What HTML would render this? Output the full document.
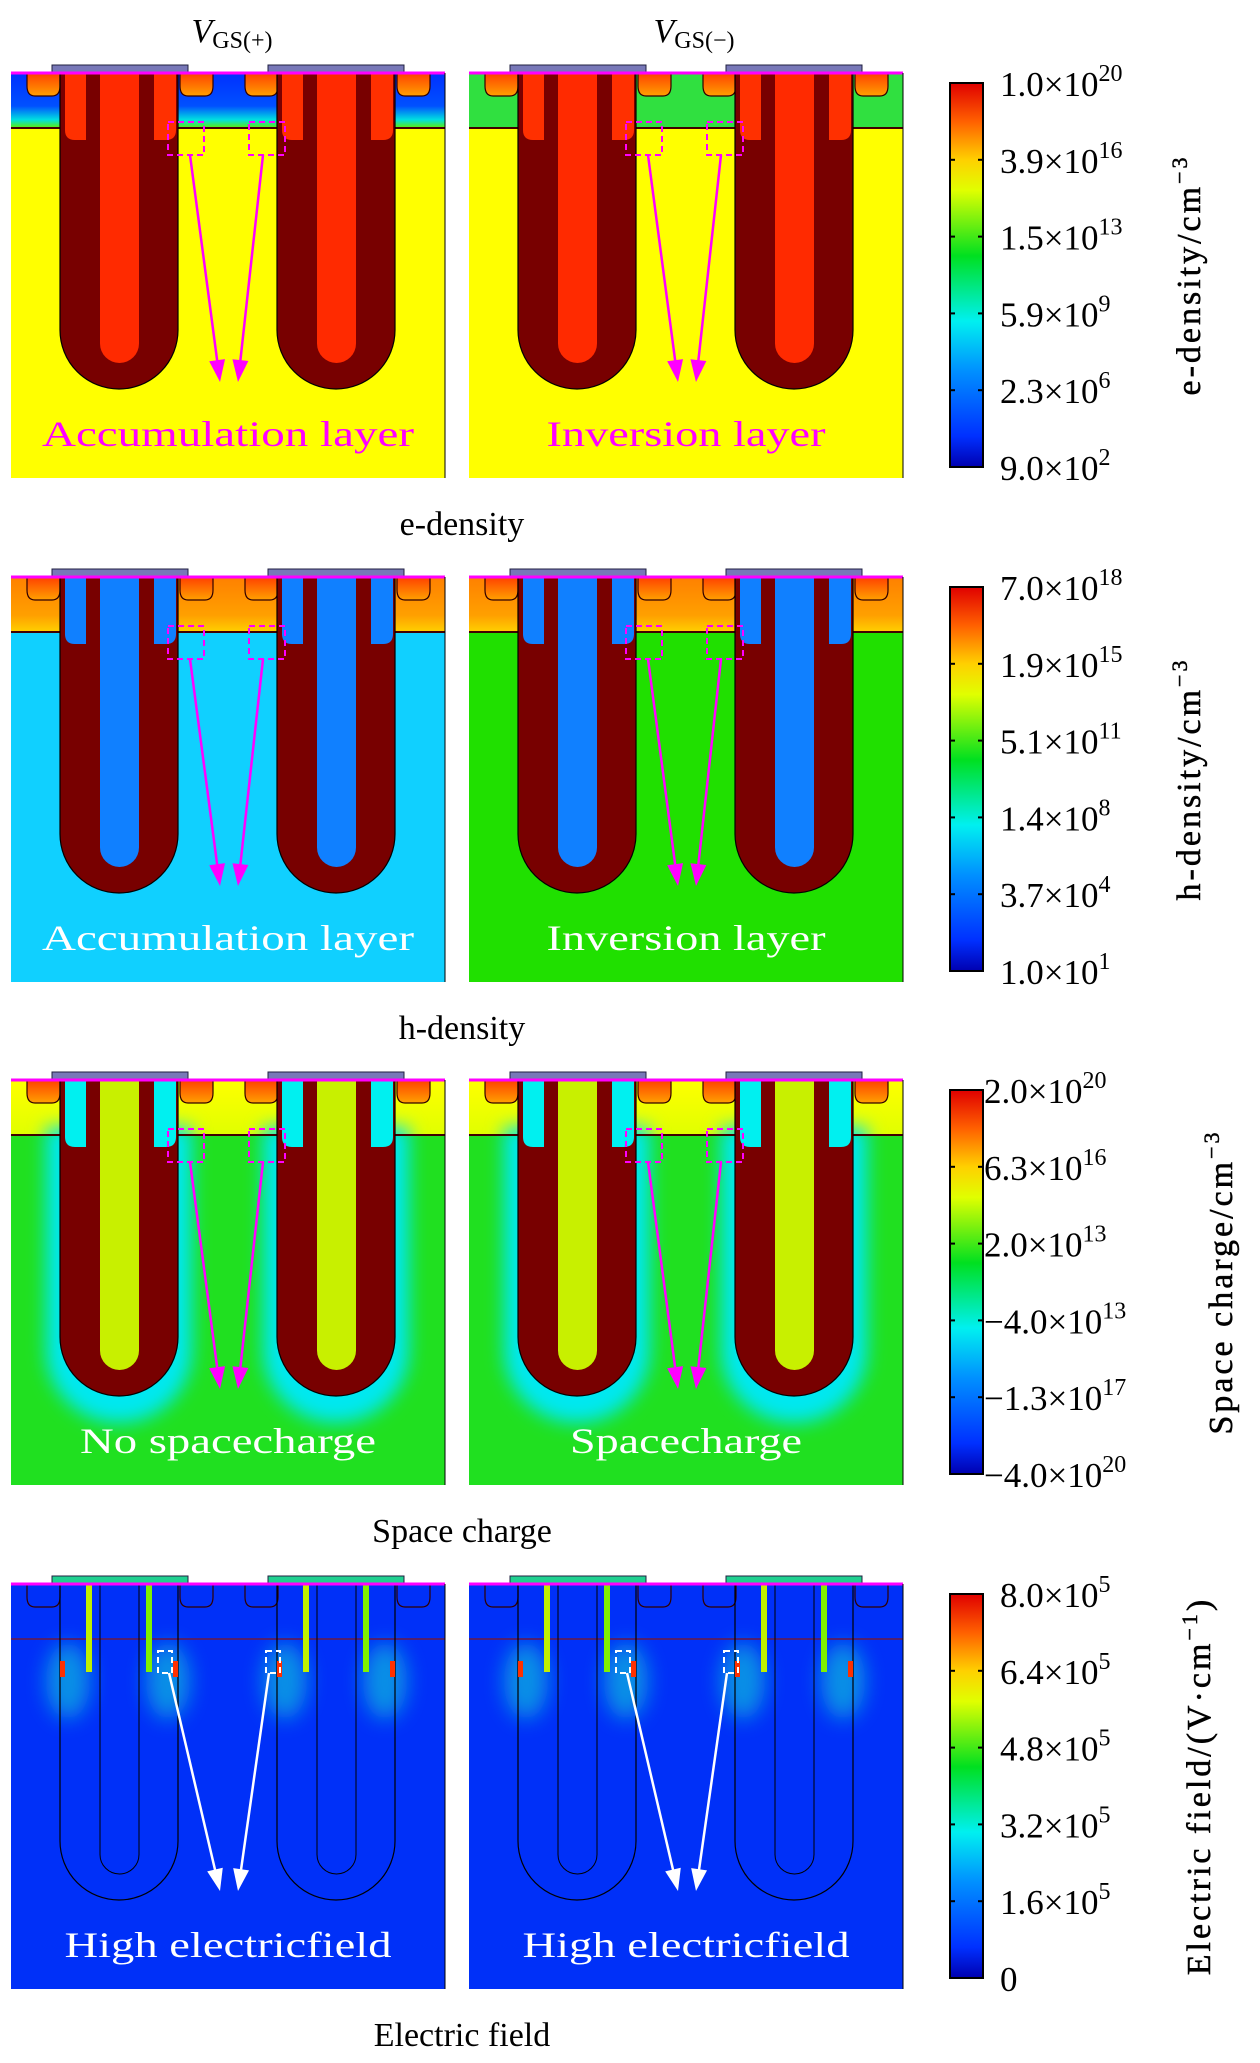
<!DOCTYPE html>
<html><head><meta charset="utf-8"><style>
html,body{margin:0;padding:0;background:#fff;}
svg{display:block;}
text{font-family:"Liberation Serif",serif;}
</style></head><body>
<svg id="fig" width="1260" height="2063" viewBox="0 0 1260 2063" xmlns="http://www.w3.org/2000/svg">
<defs>
<linearGradient id="cbar" x1="0" y1="1" x2="0" y2="0">
<stop offset="0" stop-color="#0000b0"/><stop offset="0.08" stop-color="#0030ff"/><stop offset="0.25" stop-color="#0090ff"/>
<stop offset="0.38" stop-color="#00f0f0"/><stop offset="0.55" stop-color="#00e020"/><stop offset="0.72" stop-color="#e0ff00"/>
<stop offset="0.8" stop-color="#ffd000"/><stop offset="0.9" stop-color="#ff6000"/><stop offset="1" stop-color="#e00000"/>
</linearGradient>
<linearGradient id="bandBlue" x1="0" y1="0" x2="0" y2="1"><stop offset="0" stop-color="#0030ff"/><stop offset="0.6" stop-color="#0050ff"/><stop offset="0.85" stop-color="#00e0e0"/><stop offset="1" stop-color="#60f000"/></linearGradient>
<linearGradient id="bandOrange" x1="0" y1="0" x2="0" y2="1"><stop offset="0" stop-color="#ff8000"/><stop offset="0.7" stop-color="#ffa000"/><stop offset="1" stop-color="#ffd000"/></linearGradient>
<linearGradient id="bandYellow" x1="0" y1="0" x2="0" y2="1"><stop offset="0" stop-color="#ffff00"/><stop offset="1" stop-color="#e0ff00"/></linearGradient>
<linearGradient id="bump" x1="0" y1="0" x2="0" y2="1"><stop offset="0" stop-color="#ff4000"/><stop offset="1" stop-color="#ffa000"/></linearGradient>
<filter id="blur" x="-30%" y="-30%" width="160%" height="160%"><feGaussianBlur stdDeviation="9"/></filter>
<filter id="blur2" x="-50%" y="-50%" width="200%" height="200%"><feGaussianBlur stdDeviation="10"/></filter>
</defs>
<g id="content"></g>
</svg>
<script>
// colorbar data
const eTicks = [["1.0","20"],["3.9","16"],["1.5","13"],["5.9","9"],["2.3","6"],["9.0","2"]];
const hTicks = [["7.0","18"],["1.9","15"],["5.1","11"],["1.4","8"],["3.7","4"],["1.0","1"]];
const sTicks = [["2.0","20"],["6.3","16"],["2.0","13"],["\u22124.0","13"],["\u22121.3","17"],["\u22124.0","20"]];
const fTicks = [["8.0","5"],["6.4","5"],["4.8","5"],["3.2","5"],["1.6","5"],["0",""]];
const rowCaptions = ["e-density","h-density","Space charge","Electric field"];
const rowOffsets = [0,504,1007,1511];

const NS="http://www.w3.org/2000/svg";
const root=document.getElementById('content');
function mk(tag,attrs,parent){const e=document.createElementNS(NS,tag);for(const k in attrs)e.setAttribute(k,attrs[k]);(parent||root).appendChild(e);return e;}
function uPath(x0,w,top,bot){const r=w/2;return `M${x0},${top} L${x0},${bot-r} A${r},${r} 0 0 0 ${x0+w},${bot-r} L${x0+w},${top} Z`;}

const cfgs=[
 {bg:"#ffff00",bandL:"url(#bandBlue)",bandR:"#30e040",outer:"#780000",core:"#ff2a00",side:"#ff3000",arrow:"#ff00ff",txt:"#ff00ff",labels:["Accumulation layer","Inversion layer"],lens:[372,279]},
 {bg:"#10d0ff",bgR:"#20e000",bandL:"url(#bandOrange)",bandR:"url(#bandOrange)",outer:"#780000",core:"#1080ff",side:"#1080ff",arrow:"#ff00ff",txt:"#ffffff",labels:["Accumulation layer","Inversion layer"],lens:[372,279]},
 {bg:"#20e020",bandL:"url(#bandYellow)",bandR:"url(#bandYellow)",outer:"#780000",core:"#c8f000",side:"#00f0f0",arrow:"#ff00ff",txt:"#ffffff",labels:["No spacecharge","Spacecharge"],lens:[296,232],halo:true},
 {bg:"#0030f8",bandL:"#0030f8",bandR:"#0030f8",outer:"none",core:"none",side:"none",arrow:"#ffffff",txt:"#ffffff",labels:["High electricfield","High electricfield"],lens:[327,327],efield:true}
];
const tickSets=[eTicks,hTicks,sTicks,fTicks];
const titles=[["e-density/cm","\u22123",290,1190],["h-density/cm","\u22123",292,1190],["Space charge/cm","\u22123",368,1222],["Electric field/(V\u00b7cm","\u22121",420,1200]];

rowOffsets.forEach((py,ri)=>{
 const c=cfgs[ri];
 [0,458].forEach((px,pi)=>{
  const g=mk('g',{});
  const bg=(pi&&c.bgR)?c.bgR:c.bg;
  mk('rect',{x:px+11,y:py+73,width:434,height:405,fill:bg},g);
  mk('rect',{x:px+11,y:py+73,width:434,height:55,fill:pi?c.bandR:c.bandL},g);
  if(ri===2){
    [60,277].forEach(t=>{mk('path',{d:uPath(px+t-14,146,py+120,py+416),fill:"#00e8f0",filter:"url(#blur)"},g);});
  }
  if(ri===3){
    [60,277].forEach(t=>{
      mk('ellipse',{cx:px+t+8,cy:py+170,rx:22,ry:38,fill:"#10b0e0",filter:"url(#blur2)",opacity:"0.75"},g);
      mk('ellipse',{cx:px+t+108,cy:py+170,rx:22,ry:38,fill:"#10b0e0",filter:"url(#blur2)",opacity:"0.75"},g);
    });
  }
  [27,180,245,397].forEach(bx=>{mk('path',{d:`M${px+bx},${py+73} L${px+bx},${py+86} Q${px+bx},${py+96} ${px+bx+8},${py+96} L${px+bx+25},${py+96} Q${px+bx+33},${py+96} ${px+bx+33},${py+86} L${px+bx+33},${py+73} Z`,fill:ri===3?"none":"url(#bump)",stroke:"#300000","stroke-width":"1.2"},g);});
  mk('line',{x1:px+11,y1:py+128,x2:px+445,y2:py+128,stroke:ri===3?"#502070":"#400000","stroke-width":"2"},g);
  [60,277].forEach(t=>{
   const tr=mk('path',{d:uPath(px+t,118,py+73,py+389),fill:c.outer,stroke:"#000","stroke-width":"1.2"},g);
   
   
   mk('path',{d:uPath(px+t+40,39,py+73,py+363),fill:c.core,stroke:c.efield?"#000":"none","stroke-width":"1"},g);
   if(!c.efield){
    mk('path',{d:`M${px+t+5},${py+73} L${px+t+5},${py+130} Q${px+t+5},${py+140} ${px+t+15},${py+140} L${px+t+26},${py+140} L${px+t+26},${py+73} Z`,fill:c.side},g);
    mk('path',{d:`M${px+t+94},${py+73} L${px+t+94},${py+140} L${px+t+106},${py+140} Q${px+t+116},${py+140} ${px+t+116},${py+130} L${px+t+116},${py+73} Z`,fill:c.side},g);
   } else {
    mk('rect',{x:px+t+26,y:py+73,width:6,height:88,fill:"#c0f000"},g);
    mk('rect',{x:px+t+86,y:py+73,width:6,height:88,fill:"#80f000"},g);
    mk('rect',{x:px+t,y:py+150,width:5,height:16,fill:"#ff3000"},g);
    mk('rect',{x:px+t+113,y:py+150,width:5,height:16,fill:"#ff3000"},g);
   }
  });
  mk('rect',{x:px+52,y:py+65,width:136,height:8,fill:c.efield?"#20d090":"#7878b8",stroke:"#202040","stroke-width":"1"},g);
  mk('rect',{x:px+268,y:py+65,width:136,height:8,fill:c.efield?"#20d090":"#7878b8",stroke:"#202040","stroke-width":"1"},g);
  mk('line',{x1:px+11,y1:py+73,x2:px+445,y2:py+73,stroke:"#ff00ff","stroke-width":"3"},g);
  mk('line',{x1:px+445,y1:py+73,x2:px+445,y2:py+478,stroke:"#000","stroke-width":"1"},g);
  const bw=c.efield?14:36, bh=c.efield?22:33;
  const b1x=c.efield?px+158:px+168, b2x=c.efield?px+266:px+249;
  const by=c.efield?py+140:py+122;
  [b1x,b2x].forEach(bx=>mk('rect',{x:bx,y:by,width:bw,height:bh,fill:"none",stroke:c.arrow,"stroke-width":"2","stroke-dasharray":"6,4"},g));
  const tipY=c.efield?py+380:py+382;
  const arrows=[[b1x+bw/2+4,by+bh,px+220,tipY],[b2x+bw/2-4,by+bh,px+238,tipY]];
  arrows.forEach(a=>{
   const [x1,y1,x2,y2]=a; const dx=x2-x1,dy=y2-y1,L=Math.hypot(dx,dy),ux=dx/L,uy=dy/L;
   const ar=mk('g',{},g);
   
   
   mk('line',{x1:x1,y1:y1,x2:x2-ux*18,y2:y2-uy*18,stroke:c.arrow,"stroke-width":"2.5"},ar);
   mk('polygon',{points:`${x2},${y2} ${x2-ux*22-uy*8},${y2-uy*22+ux*8} ${x2-ux*22+uy*8},${y2-uy*22-ux*8}`,fill:c.arrow},ar);
  });
  const lab=mk('text',{x:px+228,y:py+446,'text-anchor':'middle','font-size':'36',fill:c.txt,textLength:c.lens[pi],lengthAdjust:'spacingAndGlyphs',},g);
  lab.textContent=c.labels[pi];
 });
 const cap=mk('text',{x:462,y:py+535,'text-anchor':'middle','font-size':'34',fill:'#000',});
 cap.textContent=rowCaptions[ri];
 const cb=mk('g',{});
 mk('rect',{x:950,y:py+83,width:33,height:384,fill:"url(#cbar)",stroke:"#000","stroke-width":"2"},cb);
 tickSets[ri].forEach((t,i)=>{
  const y=py+83+i*384/5;
  mk('line',{x1:950,y1:y,x2:955,y2:y,stroke:"#000","stroke-width":"2"},cb);
  mk('line',{x1:978,y1:y,x2:983,y2:y,stroke:"#000","stroke-width":"2"},cb);
  const tx=mk('text',{x:ri===2?984:1000,y:y+13,'font-size':'35',fill:'#000'},cb);
  
  
  if(t[1]===""){tx.textContent=t[0];}else{
   tx.appendChild(document.createTextNode(t[0]+"\u00d710"));
   const s=document.createElementNS(NS,'tspan');s.setAttribute('dy','-15');s.setAttribute('font-size','24');s.textContent=t[1];tx.appendChild(s);
  }
 });
 const T=titles[ri];
 const cy=py+275;
 const tt=mk('text',{x:0,y:0,transform:`translate(${T[3]+10},${cy}) rotate(-90)`,'text-anchor':'middle','font-size':'34',fill:'#000','letter-spacing':'3','stroke':'#000','stroke-width':'0.5',});
 tt.appendChild(document.createTextNode(T[0]));
 const s2=document.createElementNS(NS,'tspan');s2.setAttribute('dy','-13');s2.setAttribute('font-size','22');s2.textContent=T[1];tt.appendChild(s2);
 if(ri===3){const s3=document.createElementNS(NS,'tspan');s3.setAttribute('dy','13');s3.textContent=")";tt.appendChild(s3);}
});
[[232,"GS(+)"],[694,"GS(\u2212)"]].forEach(h=>{
 const t=mk('text',{x:h[0],y:42,'text-anchor':'middle','font-size':'34',fill:'#000',});
 const v=document.createElementNS(NS,'tspan');v.setAttribute('font-style','italic');v.textContent="V";t.appendChild(v);
 const sb=document.createElementNS(NS,'tspan');sb.setAttribute('dy','6');sb.setAttribute('font-size','24');sb.textContent=h[1];t.appendChild(sb);
});
</script>
</body></html>
